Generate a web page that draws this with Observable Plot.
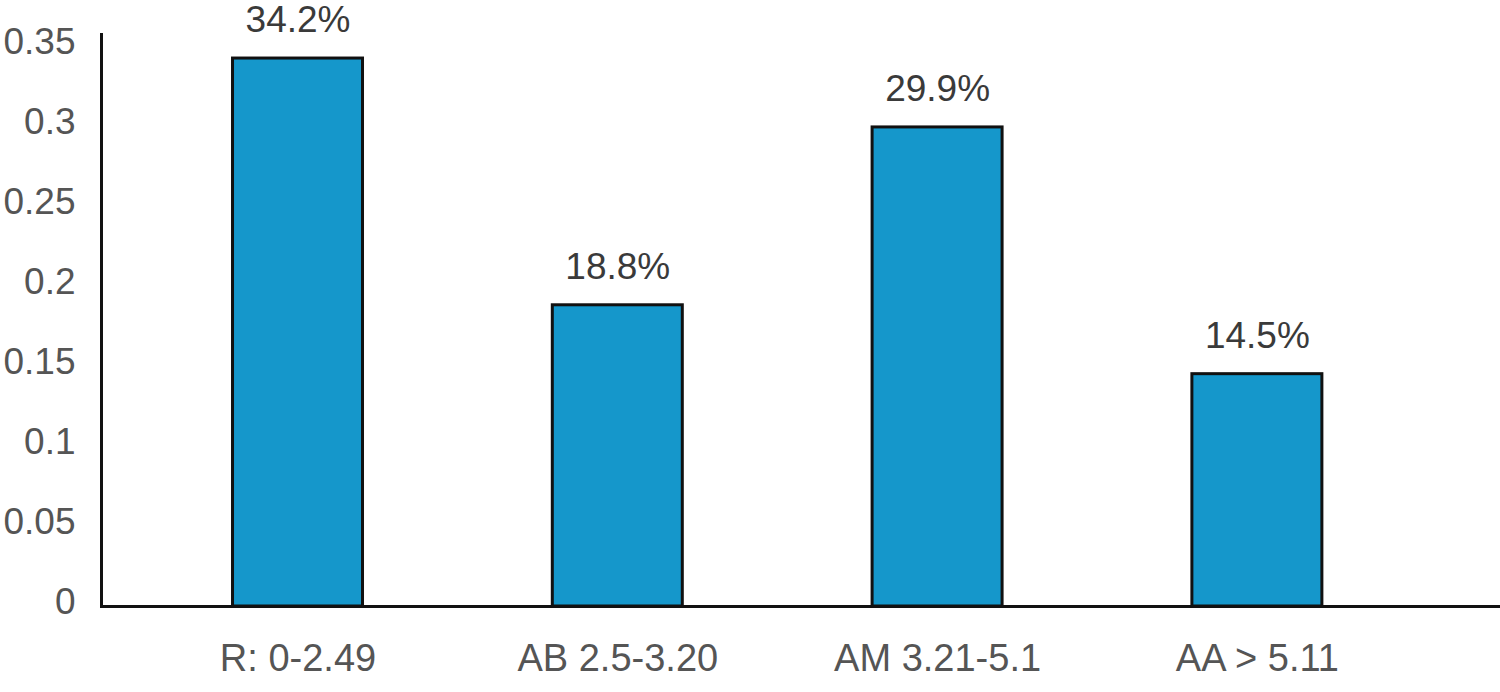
<!DOCTYPE html>
<html>
<head>
<meta charset="utf-8">
<script src="https://cdn.jsdelivr.net/npm/d3@7"></script>
<script src="https://cdn.jsdelivr.net/npm/@observablehq/plot@0.6"></script>
<style>
  html, body { margin: 0; padding: 0; background: #fff; }
  #chart svg { display: block; }
</style>
</head>
<body>
<div id="chart"></div>
<script>
const categories = ["R: 0-2.49", "AB 2.5-3.20", "AM 3.21-5.1", "AA > 5.11"];
const values = [0.342, 0.188, 0.299, 0.145];
const valueLabels = ["34.2%", "18.8%", "29.9%", "14.5%"];
const yTicks = [0, 0.05, 0.1, 0.15, 0.2, 0.25, 0.3, 0.35];
const yTickLabels = ["0", "0.05", "0.1", "0.15", "0.2", "0.25", "0.3", "0.35"];

const data = categories.map((c, i) => ({category: c, value: values[i], label: valueLabels[i]}));

const font = "'Liberation Sans', Arial, Helvetica, sans-serif";

const chart = Plot.plot({
  width: 1500,
  height: 692,
  marginTop: 34,
  marginBottom: 86,
  marginLeft: 101,
  marginRight: 0,
  style: {fontFamily: font, background: "#fff"},
  x: {domain: categories, range: [104.6, 1449.8], paddingInner: 0.5935, paddingOuter: 0.4, round: false, label: null},
  y: {domain: [0, 0.357], label: null},
  marks: [
    Plot.barY(data, {x: "category", y: "value", fill: "#1597cb", stroke: "#111", strokeWidth: 3}),
    Plot.text(data, {x: "category", y: "value", text: "label", dy: -38, fontSize: 37, fill: "#3a3a3a"}),
    Plot.ruleY([0], {stroke: "#111", strokeWidth: 3}),
    Plot.frame({anchor: "left", stroke: "#111", strokeWidth: 3}),
    Plot.axisY({ticks: yTicks, tickFormat: d => yTickLabels[yTicks.indexOf(d)], tickSize: 0, tickPadding: 26, fontSize: 37, fill: "#555", dy: -4, label: null}),
    Plot.axisX({tickSize: 0, tickPadding: 38, fontSize: 38, fill: "#555", label: null})
  ]
});
document.getElementById("chart").appendChild(chart);
</script>
</body>
</html>
